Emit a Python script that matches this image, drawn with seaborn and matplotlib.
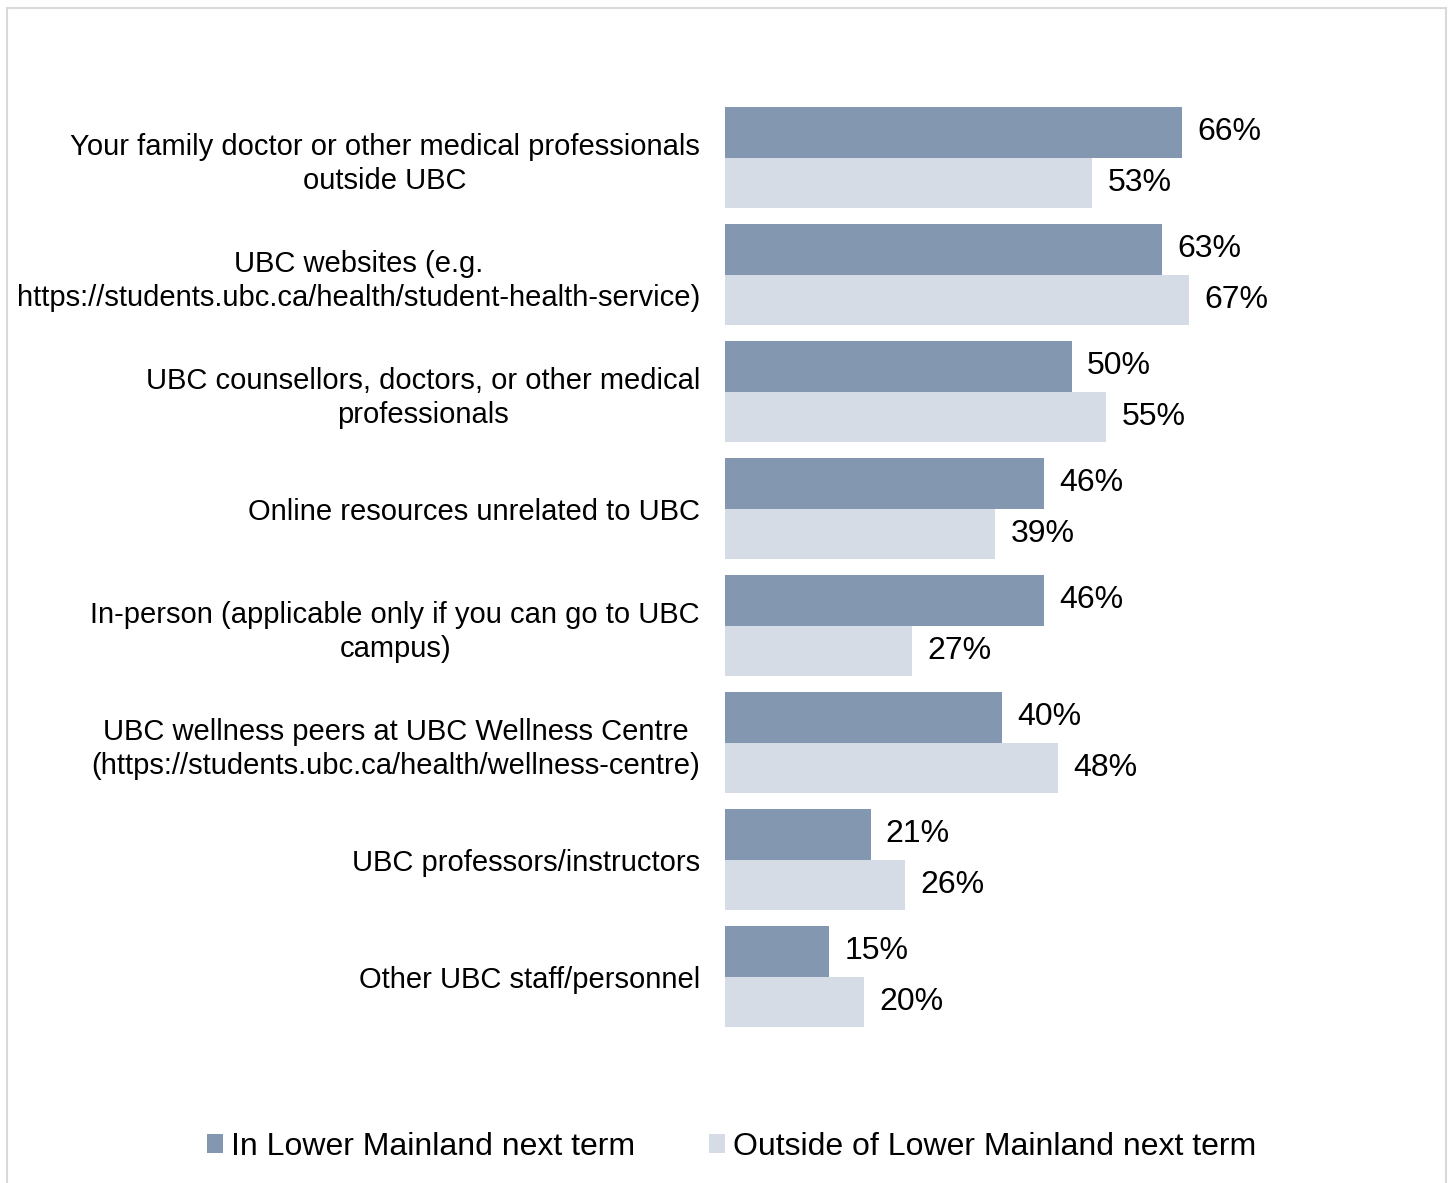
import pandas as pd
import matplotlib.pyplot as plt
import seaborn as sns
from matplotlib.patches import Patch, Rectangle

categories = [
    "Your family doctor or other medical professionals\noutside UBC",
    "UBC websites (e.g.\nhttps://students.ubc.ca/health/student-health-service)",
    "UBC counsellors, doctors, or other medical\nprofessionals",
    "Online resources unrelated to UBC",
    "In-person (applicable only if you can go to UBC\ncampus)",
    "UBC wellness peers at UBC Wellness Centre\n(https://students.ubc.ca/health/wellness-centre)",
    "UBC professors/instructors",
    "Other UBC staff/personnel",
]
series_names = ["In Lower Mainland next term", "Outside of Lower Mainland next term"]
in_lower = [66, 63, 50, 46, 46, 40, 21, 15]
outside_lower = [53, 67, 55, 39, 27, 48, 26, 20]
colors = ["#8497B0", "#D6DCE5"]

df = pd.DataFrame({
    "category": categories * 2,
    "series": [series_names[0]] * len(categories) + [series_names[1]] * len(categories),
    "value": in_lower + outside_lower,
})

sns.set_style("white")
plt.rcParams["font.family"] = ["Liberation Sans", "DejaVu Sans"]
plt.rcParams["text.color"] = "black"
plt.rcParams["ytick.color"] = "black"

fig = plt.figure(figsize=(14.5, 11.83), dpi=100)
ax = fig.add_axes([0.5, 0.1251, 0.478, 0.7912])

sns.barplot(data=df, y="category", x="value", hue="series", order=categories,
            hue_order=series_names, palette=colors, width=0.86, orient="h",
            saturation=1, legend=False, linewidth=0, ax=ax)

for container in ax.containers:
    ax.bar_label(container, labels=[f"{v:.0f}%" for v in container.datavalues],
                 padding=11, fontsize=23, color="black")

ax.set_xlim(0, 100)
ax.set_xlabel("")
ax.set_ylabel("")
ax.set_xticks([])
ax.tick_params(axis="y", length=0, pad=18, labelsize=21, labelcolor="black")
for lbl in ax.get_yticklabels():
    lbl.set_multialignment("center")
    lbl.set_linespacing(1.28)
for s in ax.spines.values():
    s.set_visible(False)

handles = [Patch(facecolor=c, edgecolor="none") for c in colors]
fig.legend(handles, series_names, loc="center", bbox_to_anchor=(0.5045, 0.0304),
           ncol=2, frameon=False, fontsize=23, handlelength=0.52, handleheight=0.52,
           handletextpad=0.25, columnspacing=2.3)

fig.patches.append(Rectangle((7 / 1450, -0.05), 1439 / 1450, 1.05 - 8 / 1183,
                             transform=fig.transFigure, fill=False,
                             edgecolor="#D9D9D9", linewidth=1.5))

fig.savefig("out.png", dpi=100)
